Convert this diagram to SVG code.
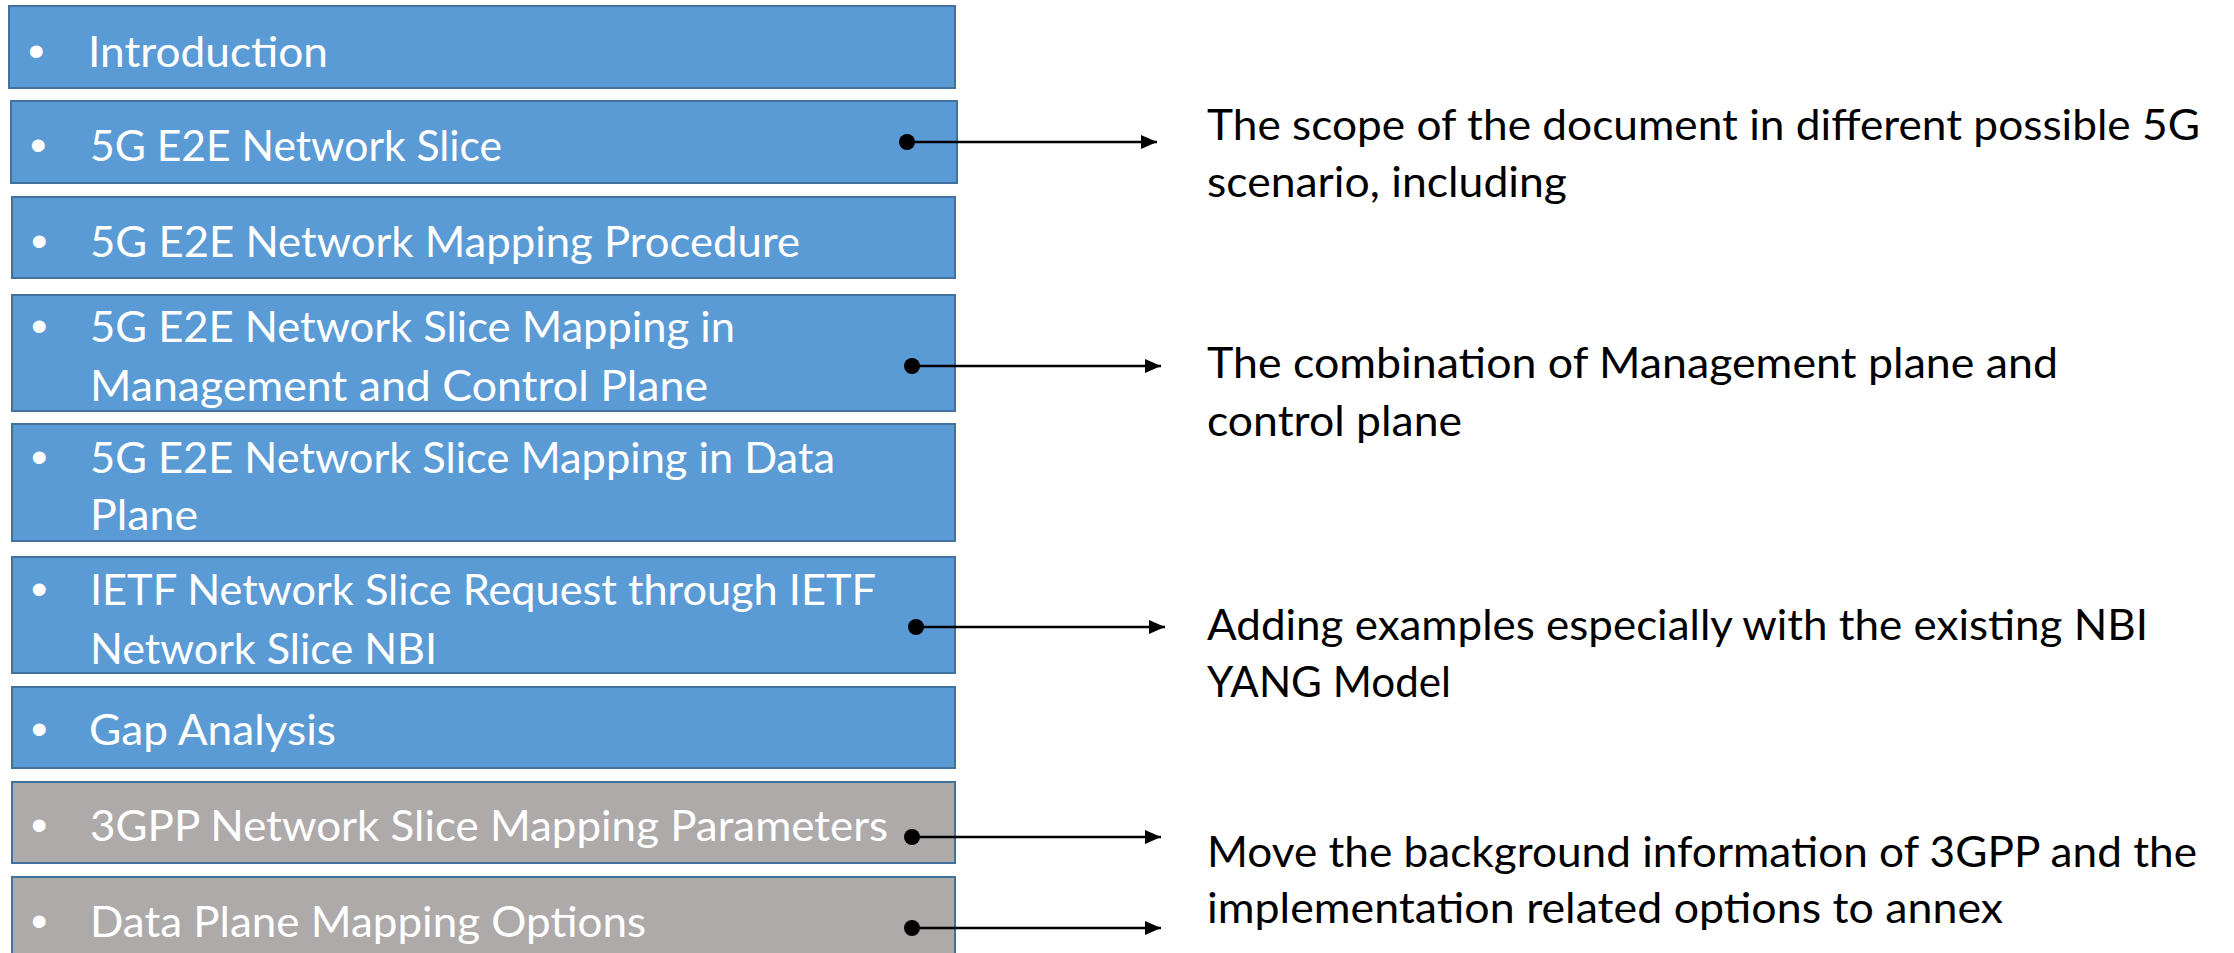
<svg xmlns="http://www.w3.org/2000/svg" width="2234" height="953" viewBox="0 0 2234 953">
  <style>
    .box { stroke: #41719C; stroke-width: 2; }
    .blue { fill: #5B9BD5; }
    .grey { fill: #AEAAAA; }
    .lbl { font-family: Lato, "Liberation Sans", sans-serif; font-size: 43px; fill: #FFFFFF; }
    .bul { font-family: "Liberation Sans", Arial, sans-serif; font-size: 47px; fill: #FFFFFF; }
    .note { font-family: Lato, "Liberation Sans", sans-serif; font-size: 43px; fill: #000000; }
    .conn { stroke: #000000; stroke-width: 2.5; fill: none; marker-start: url(#dot); marker-end: url(#arrow); }
  </style>
  <defs>
    <marker id="arrow" markerUnits="userSpaceOnUse" markerWidth="18" markerHeight="16" refX="16" refY="7" orient="auto">
      <path d="M0,0 L16,7 L0,14 z" fill="#000000"/>
    </marker>
    <marker id="dot" markerUnits="userSpaceOnUse" markerWidth="18" markerHeight="18" refX="9" refY="9" orient="auto">
      <circle cx="9" cy="9" r="8" fill="#000000"/>
    </marker>
  </defs>

  <rect width="2234" height="953" fill="#FFFFFF"/>

  <!-- outline items -->
  <g id="item-introduction">
    <rect class="box blue" x="9" y="6" width="946" height="82"/>
    <text class="bul" x="28" y="67">•</text>
    <text class="lbl" x="88" y="67" textLength="240" lengthAdjust="spacingAndGlyphs">Introduction</text>
  </g>
  <g id="item-e2e-slice">
    <rect class="box blue" x="11" y="101" width="946" height="82"/>
    <text class="bul" x="30" y="161">•</text>
    <text class="lbl" x="90" y="161" textLength="412" lengthAdjust="spacingAndGlyphs">5G E2E Network Slice</text>
  </g>
  <g id="item-mapping-procedure">
    <rect class="box blue" x="12" y="197" width="943" height="81"/>
    <text class="bul" x="31" y="257">•</text>
    <text class="lbl" x="90" y="257" textLength="710" lengthAdjust="spacingAndGlyphs">5G E2E Network Mapping Procedure</text>
  </g>
  <g id="item-mgmt-control">
    <rect class="box blue" x="12" y="295" width="943" height="116"/>
    <text class="bul" x="31" y="342">•</text>
    <text class="lbl" x="90" y="342" textLength="645" lengthAdjust="spacingAndGlyphs">5G E2E Network Slice Mapping in</text>
    <text class="lbl" x="90" y="401" textLength="618" lengthAdjust="spacingAndGlyphs">Management and Control Plane</text>
  </g>
  <g id="item-data-plane">
    <rect class="box blue" x="12" y="424" width="943" height="117"/>
    <text class="bul" x="31" y="473">•</text>
    <text class="lbl" x="90" y="473" textLength="745" lengthAdjust="spacingAndGlyphs">5G E2E Network Slice Mapping in Data</text>
    <text class="lbl" x="90" y="530" textLength="108" lengthAdjust="spacingAndGlyphs">Plane</text>
  </g>
  <g id="item-ietf-request">
    <rect class="box blue" x="12" y="557" width="943" height="116"/>
    <text class="bul" x="31" y="605">•</text>
    <text class="lbl" x="90" y="605" textLength="786" lengthAdjust="spacingAndGlyphs">IETF Network Slice Request through IETF</text>
    <text class="lbl" x="90" y="664" textLength="347" lengthAdjust="spacingAndGlyphs">Network Slice NBI</text>
  </g>
  <g id="item-gap-analysis">
    <rect class="box blue" x="12" y="687" width="943" height="81"/>
    <text class="bul" x="31" y="745">•</text>
    <text class="lbl" x="89" y="745" textLength="247" lengthAdjust="spacingAndGlyphs">Gap Analysis</text>
  </g>
  <g id="item-3gpp-params">
    <rect class="box grey" x="12" y="782" width="943" height="81"/>
    <text class="bul" x="31" y="841">•</text>
    <text class="lbl" x="90" y="841" textLength="798" lengthAdjust="spacingAndGlyphs">3GPP Network Slice Mapping Parameters</text>
  </g>
  <g id="item-dp-options">
    <rect class="box grey" x="12" y="877" width="943" height="82"/>
    <text class="bul" x="31" y="937">•</text>
    <text class="lbl" x="90" y="937" textLength="556" lengthAdjust="spacingAndGlyphs">Data Plane Mapping Options</text>
  </g>

  <!-- notes -->
  <g id="note-scope">
    <text class="note" x="1207" y="140" textLength="993" lengthAdjust="spacingAndGlyphs">The scope of the document in different possible 5G</text>
    <text class="note" x="1207" y="197" textLength="360" lengthAdjust="spacingAndGlyphs">scenario, including</text>
  </g>
  <g id="note-combination">
    <text class="note" x="1207" y="378" textLength="851" lengthAdjust="spacingAndGlyphs">The combination of Management plane and</text>
    <text class="note" x="1207" y="436" textLength="255" lengthAdjust="spacingAndGlyphs">control plane</text>
  </g>
  <g id="note-examples">
    <text class="note" x="1207" y="640" textLength="941" lengthAdjust="spacingAndGlyphs">Adding examples especially with the existing NBI</text>
    <text class="note" x="1207" y="697" textLength="244" lengthAdjust="spacingAndGlyphs">YANG Model</text>
  </g>
  <g id="note-annex">
    <text class="note" x="1207" y="867" textLength="990" lengthAdjust="spacingAndGlyphs">Move the background information of 3GPP and the</text>
    <text class="note" x="1207" y="923" textLength="796" lengthAdjust="spacingAndGlyphs">implementation related options to annex</text>
  </g>

  <!-- connectors -->
  <g id="connectors">
    <line class="conn" x1="907" y1="142" x2="1157" y2="142"/>
    <line class="conn" x1="912" y1="366" x2="1161" y2="366"/>
    <line class="conn" x1="916" y1="627" x2="1165" y2="627"/>
    <line class="conn" x1="912" y1="837" x2="1161" y2="837"/>
    <line class="conn" x1="912" y1="928" x2="1161" y2="928"/>
  </g>
</svg>
